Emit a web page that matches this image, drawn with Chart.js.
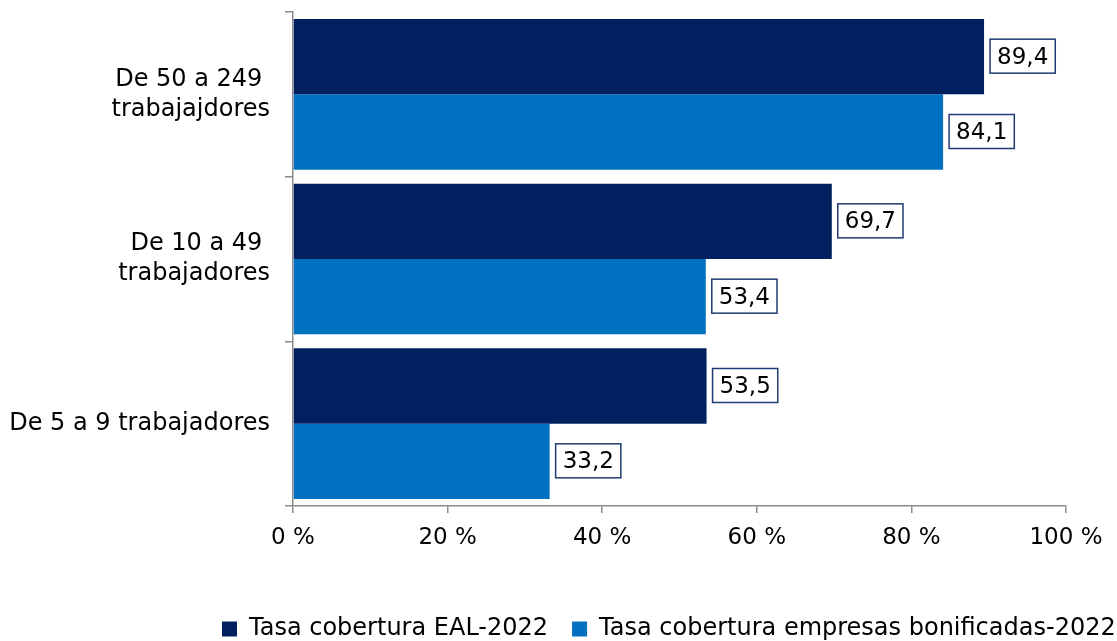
<!DOCTYPE html>
<html>
<head>
<meta charset="utf-8">
<script src="https://cdn.jsdelivr.net/npm/chart.js@4/dist/chart.umd.min.js"></script>
<style>
   html, body { margin: 0; padding: 0; background: #fff; }
   #wrap { width: 1117px; height: 641px; }
</style>
</head>
<body>
<div id="wrap"><canvas id="cobertura"></canvas></div>
<script>
const categories = [
   ['De 50 a 249 ', 'trabajajdores'],
   ['De 10 a 49 ', 'trabajadores'],
   'De 5 a 9 trabajadores'
];
const eal2022 = [89.4, 69.7, 53.5];
const bonificadas2022 = [84.1, 53.4, 33.2];
const xTicks = [0, 20, 40, 60, 80, 100];

const FONT = 'DejaVu Sans';

// etiqueta con recuadro al final de cada barra
const boxedLabels = {
   id: 'boxedLabels',
   afterDatasetsDraw(chart) {
      const ctx = chart.ctx;
      ctx.save();
      ctx.font = `23px "${FONT}"`;
      ctx.textBaseline = 'middle';
      ctx.textAlign = 'left';
      chart.data.datasets.forEach((ds, i) => {
         chart.getDatasetMeta(i).data.forEach((bar, j) => {
            const txt = ds.data[j].toFixed(1).replace('.', ',');
            const w = ctx.measureText(txt).width;
            const bx = bar.x + 6;
            const by = bar.y - 17.5;
            const bw = w + 14;
            const bh = 34;
            ctx.fillStyle = '#fff';
            ctx.fillRect(bx, by, bw, bh);
            ctx.strokeStyle = '#1F3B73';
            ctx.lineWidth = 1.5;
            ctx.strokeRect(bx, by, bw, bh);
            ctx.fillStyle = '#000';
            ctx.fillText(txt, bx + 7, bar.y + 1);
         });
      });
      ctx.restore();
   }
};

// la leyenda arranca más a la derecha que el centro del lienzo
const shiftLegend = {
   id: 'shiftLegend',
   afterLayout(chart) {
      chart.legend.left = 198;
      chart.legend.right = 198 + 1200;
   }
};

new Chart(document.getElementById('cobertura'), {
   type: 'bar',
   data: {
      labels: categories,
      datasets: [
         {
            label: 'Tasa cobertura EAL-2022',
            data: eal2022,
            backgroundColor: '#002060',
            categoryPercentage: 0.915,
            barPercentage: 1
         },
         {
            label: 'Tasa cobertura empresas bonificadas-2022',
            data: bonificadas2022,
            backgroundColor: '#0070C0',
            categoryPercentage: 0.915,
            barPercentage: 1
         }
      ]
   },
   options: {
      indexAxis: 'y',
      responsive: true,
      maintainAspectRatio: false,
      animation: false,
      layout: { padding: { top: 12, right: 0, left: 0, bottom: -10 } },
      plugins: {
         legend: {
            position: 'bottom',
            align: 'start',
            labels: {
               font: { family: FONT, size: 24 },
               color: '#000',
               boxWidth: 15,
               boxHeight: 15,
               padding: 24
            }
         },
         tooltip: { enabled: false }
      },
      scales: {
         x: {
            min: 0,
            max: 100,
            afterBuildTicks: (scale) => {
               scale.ticks = xTicks.map(v => ({ value: v }));
            },
            afterFit: (scale) => {
               scale.height = 87;
               scale.paddingLeft = 0;
               scale.paddingRight = 51;
            },
            border: { color: '#8C8C8C', width: 1.5 },
            grid: {
               drawOnChartArea: false,
               drawTicks: true,
               tickLength: 7,
               color: '#8C8C8C',
               lineWidth: 1.5
            },
            ticks: {
               font: { family: FONT, size: 23 },
               color: '#000',
               padding: 11,
               maxRotation: 0,
               callback: (v) => v + ' %'
            }
         },
         y: {
            afterFit: (scale) => {
               scale.width = 293;
               scale.paddingTop = 0;
               scale.paddingBottom = 0;
            },
            border: { color: '#8C8C8C', width: 1.5 },
            grid: {
               offset: true,
               drawOnChartArea: false,
               drawTicks: true,
               tickLength: 8,
               color: '#8C8C8C',
               lineWidth: 1.5
            },
            ticks: {
               font: { family: FONT, size: 24, lineHeight: 1.25 },
               color: '#000',
               padding: 15
            }
         }
      }
   },
   plugins: [boxedLabels, shiftLegend]
});
</script>
</body>
</html>
